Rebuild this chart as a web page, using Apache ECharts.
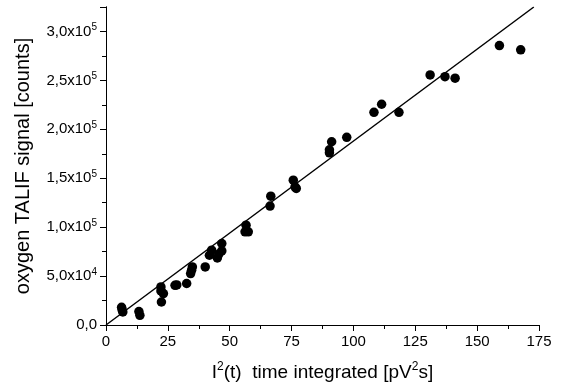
<!DOCTYPE html>
<html><head><meta charset="utf-8">
<script src="https://cdn.jsdelivr.net/npm/echarts@6/dist/echarts.min.js"></script>
<style>html,body{margin:0;padding:0;background:#fff}#c{width:561px;height:390px}</style>
</head><body><div id="c"></div>
<script>
const xValues = [6.3,6.5,6.8,13.3,13.7,22.2,22.2,23.2,22.4,27.9,28.6,32.6,34.2,34.9,34.6,40.1,41.8,42.7,45.0,46.8,46.8,45.6,56.6,56.2,57.5,66.3,66.6,75.7,76.4,76.9,90.3,90.3,91.2,97.3,108.3,111.4,118.4,131.0,137.0,141.1,159.0,167.6];
const yValues = [18100,15500,13300,13700,9900,38900,34800,32100,23500,40600,41000,42400,52600,59400,56000,59400,71300,76500,68600,83300,75700,72500,102000,95200,95200,121500,131700,148000,141200,139600,176000,179000,187300,191800,217400,225600,217400,255600,253800,252200,285600,281200];
const fitX = [0, 172.9];
const fitY = [0, 325000];
const xTicks = [0,25,50,75,100,125,150,175];
const yTickLabels = {0:'0,0',50000:'5,0x10^4',100000:'1,0x10^5',150000:'1,5x10^5',200000:'2,0x10^5',250000:'2,5x10^5',300000:'3,0x10^5'};

const font = 'Liberation Sans, Arial, sans-serif';
const chart = echarts.init(document.getElementById('c'), null, {renderer:'canvas'});
const lineStyle = {color:'#000', width:1};
function yFmt(v){
  const s = yTickLabels[v];
  if (s === undefined) return '';
  const p = s.split('^');
  if (p.length === 1) return '{n|' + p[0] + '}';
  return '{n|' + p[0] + '}{s|' + p[1] + '}';
}
const rich = {
  n:{fontSize:15, fontFamily:font, color:'#000', lineHeight:18},
  s:{fontSize:10, fontFamily:font, color:'#000', verticalAlign:'top', lineHeight:10}
};
const richName = {
  n:{fontSize:19, fontFamily:font, color:'#000', lineHeight:23},
  s:{fontSize:12, fontFamily:font, color:'#000', verticalAlign:'top', lineHeight:12}
};
chart.setOption({
  animation:false,
  backgroundColor:'#fff',
  grid:{left:106, right:22, top:7, bottom:65, containLabel:false},
  xAxis:[{
    type:'value', min:0, max:175, interval:25, position:'bottom',
    axisLine:{lineStyle}, splitLine:{show:false},
    axisTick:{inside:false, length:6, lineStyle},
    minorTick:{show:true, splitNumber:2, length:4, lineStyle},
    axisLabel:{fontSize:15, fontFamily:font, color:'#000', margin:9,
      formatter:v=> xTicks.includes(v) ? String(v) : ''},
    name:'{n|I}{s|2}{n|(t)  time integrated [pV}{s|2}{n|s]}',
    nameLocation:'middle', nameGap:36,
    nameTextStyle:{rich:richName}
  },{
    type:'value', min:0, max:175, interval:25, position:'top',
    axisLine:{lineStyle}, splitLine:{show:false},
    axisTick:{inside:true, length:5, lineStyle},
    minorTick:{show:true, splitNumber:2, length:3, lineStyle},
    axisLabel:{show:false}
  }],
  yAxis:[{
    type:'value', min:0, max:325000, interval:50000, position:'left',
    axisLine:{lineStyle}, splitLine:{show:false},
    axisTick:{inside:false, length:6, lineStyle},
    minorTick:{show:true, splitNumber:2, length:4, lineStyle},
    axisLabel:{formatter:yFmt, rich, margin:9, showMaxLabel:false},
    name:'oxygen TALIF signal [counts]',
    nameLocation:'middle', nameGap:73,
    nameTextStyle:{fontSize:20, fontFamily:font, color:'#000'}
  },{
    type:'value', min:0, max:325000, interval:50000, position:'right',
    axisLine:{lineStyle}, splitLine:{show:false},
    axisTick:{inside:true, length:5, lineStyle},
    minorTick:{show:true, splitNumber:2, length:3, lineStyle},
    axisLabel:{show:false}
  }],
  series:[{
    type:'scatter', symbol:'circle', symbolSize:9.5,
    itemStyle:{color:'#000', opacity:1},
    data:xValues.map((x,i)=>[x,yValues[i]])
  },{
    type:'line', showSymbol:false, symbol:'none',
    lineStyle:{color:'#000', width:1.5},
    data:fitX.map((x,i)=>[x,fitY[i]])
  }]
});
</script></body></html>
